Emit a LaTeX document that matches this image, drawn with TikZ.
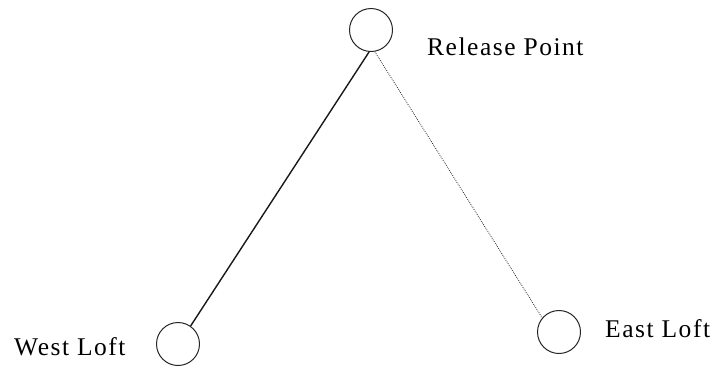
\documentclass[tikz,border=0pt]{standalone}
\usepackage{fontspec}
\setmainfont{Liberation Serif}
\usepackage{tikz}
\usetikzlibrary{positioning}

\begin{document}
\begin{tikzpicture}[x=1pt, y=-1pt,
    loft/.style={circle, draw=black!85, line width=1pt, minimum size=43pt, inner sep=0pt},
    loftlabel/.style={anchor=base west, inner sep=0pt,
      font=\fontsize{25.5}{30}\selectfont\addfontfeature{LetterSpace=6}}]
  \useasboundingbox (0,0) rectangle (720,368);
  \node[loft] (release) at (371,30) {};
  \node[loft] (westloft) at (178,344) {};
  \node[loft] (eastloft) at (559,332) {};
  \node[loftlabel] (releaselabel) at (427,55) {Release Point};
  \node[loftlabel] (westlabel) at (14,355) {West Loft};
  \node[loftlabel] (eastlabel) at (605,337) {East Loft};
  \draw[line width=1.4pt, black!90] (release.-95) -- (westloft.55);
  \draw[line width=0.8pt, black!85, dash pattern=on 0.8pt off 1.2pt] (release.-80) -- (eastloft.140);
\end{tikzpicture}
\end{document}
